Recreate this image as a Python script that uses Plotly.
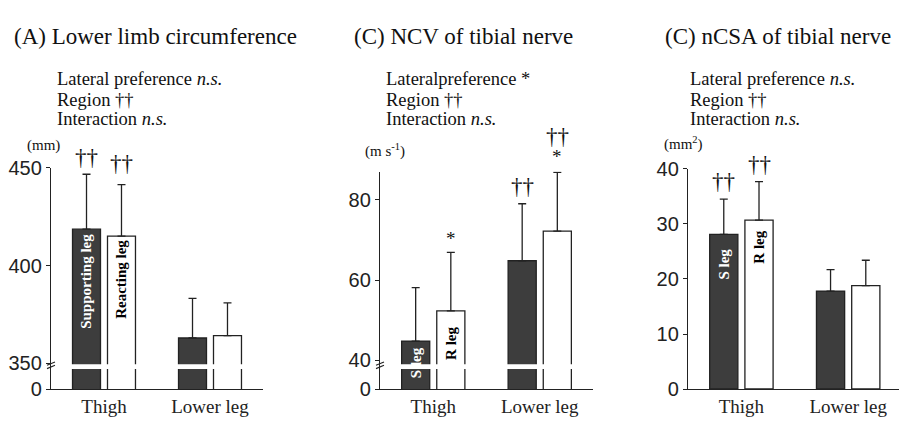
import plotly.graph_objects as go

# ---------------- data ----------------
categories = ["Thigh", "Lower leg"]

# (A) Lower limb circumference (mm)
circ_s_mean = [418.7, 363.0]
circ_s_sd = [28.1, 20.3]
circ_r_mean = [415.1, 364.2]
circ_r_sd = [26.4, 16.8]
circ_ticks = [350, 400, 450]
circ_ticktext = ["0", "350", "400", "450"]

# (C) NCV of tibial nerve (m s-1)
ncv_s_mean = [44.8, 64.8]
ncv_s_sd = [13.3, 14.2]
ncv_r_mean = [52.3, 72.2]
ncv_r_sd = [14.6, 14.6]
ncv_ticks = [40, 60, 80]
ncv_ticktext = ["0", "40", "60", "80"]

# (C) nCSA of tibial nerve (mm2)
csa_s_mean = [28.1, 17.8]
csa_s_sd = [6.4, 3.9]
csa_r_mean = [30.7, 18.8]
csa_r_sd = [7.0, 4.6]
csa_ticks = [0, 10, 20, 30, 40]
csa_ticktext = ["0", "10", "20", "30", "40"]

titles = ["(A) Lower limb circumference", "(C) NCV of tibial nerve", "(C) nCSA of tibial nerve"]
stats = [
    ["Lateral preference <i>n.s.</i>", "Region ††", "Interaction <i>n.s.</i>"],
    ["Lateralpreference *", "Region ††", "Interaction <i>n.s.</i>"],
    ["Lateral preference <i>n.s.</i>", "Region ††", "Interaction <i>n.s.</i>"],
]
units = ["(mm)", "(m s<sup>-1</sup>)", "(mm<sup>2</sup>)"]

# ---------------- layout helpers ----------------
W, H = 899, 428
def fx(px):
    return px / W
def fy(py):
    return (H - py) / H

SERIF = "Liberation Serif"
SANS = "Liberation Sans"
INK = "#222222"
DARK = "#3d3d3d"

panels = [
    dict(s=circ_s_mean, ssd=circ_s_sd, r=circ_r_mean, rsd=circ_r_sd,
         xpx=(51, 263), ypx=(399, 165.5), yr=(336.65, 450), xr=(-0.5, 1.5),
         ticks=circ_ticks, tt=circ_ticktext, brk=True),
    dict(s=ncv_s_mean, ssd=ncv_s_sd, r=ncv_r_mean, rsd=ncv_r_sd,
         xpx=(380, 593), ypx=(399, 169.3), yr=(32.74, 87.0), xr=(-0.5, 1.5),
         ticks=ncv_ticks, tt=ncv_ticktext, brk=True),
    dict(s=csa_s_mean, ssd=csa_s_sd, r=csa_r_mean, rsd=csa_r_sd,
         xpx=(688, 899), ypx=(398.5, 166.5), yr=(0, 40), xr=(-0.5, 1.476),
         ticks=csa_ticks, tt=csa_ticktext, brk=False),
]

fig = go.Figure()
layout = dict(
    width=W, height=H, margin=dict(l=0, r=0, t=0, b=0),
    paper_bgcolor="white", plot_bgcolor="white",
    barmode="group", bargap=0.34, bargroupgap=0.2,
    showlegend=False,
)
shapes = []
annotations = []

for i, p in enumerate(panels):
    sfx = "" if i == 0 else str(i + 1)
    xa, ya = "x" + sfx, "y" + sfx
    for mean, sd, col in ((p["s"], p["ssd"], DARK), (p["r"], p["rsd"], "white")):
        fig.add_trace(go.Bar(
            x=categories, y=mean, xaxis=xa, yaxis=ya,
            marker=dict(color=col, line=dict(color=INK, width=1.3)),
            error_y=dict(type="data", array=sd, arrayminus=[0] * len(sd), symmetric=False,
                         color=INK, thickness=1.3, width=4),
            hoverinfo="skip",
        ))
    tickvals = ([p["yr"][0]] + p["ticks"]) if p["brk"] else p["ticks"]
    layout["xaxis" + sfx] = dict(
        domain=[fx(p["xpx"][0]), fx(p["xpx"][1])], anchor=ya, range=list(p["xr"]),
        showline=True, linecolor=INK, linewidth=1.3, ticks="", showgrid=False,
        zeroline=False, tickfont=dict(family=SERIF, size=19, color=INK), fixedrange=True,
    )
    layout["yaxis" + sfx] = dict(
        domain=[fy(p["ypx"][0]), fy(p["ypx"][1])], anchor=xa, range=list(p["yr"]),
        showline=True, linecolor=INK, linewidth=1.3, ticks="outside", ticklen=4,
        tickwidth=1.3, tickcolor=INK, showgrid=False, zeroline=False,
        tickvals=tickvals, ticktext=p["tt"],
        tickfont=dict(family=SANS, size=20, color=INK), fixedrange=True,
    )
    # title
    annotations.append(dict(
        text=titles[i], xref="paper", yref="paper", x=fx([12, 352, 663][i]), y=fy(27),
        xanchor="left", yanchor="middle", showarrow=False,
        font=dict(family=SERIF, size=23, color="#111111")))
    # stats lines
    for j, line in enumerate(stats[i]):
        annotations.append(dict(
            text=line, xref="paper", yref="paper", x=fx([55, 384, 688][i]),
            y=fy([72, 93.5, 113.5][j]), xanchor="left", yanchor="middle", showarrow=False,
            font=dict(family=SERIF, size=18.5, color="#111111")))
    # unit label
    annotations.append(dict(
        text=units[i], xref="paper", yref="paper", x=fx([43.5, 385, 683][i]),
        y=fy([142, 146.7, 140][i]), xanchor="center", yanchor="middle", showarrow=False,
        font=dict(family=SERIF, size=15, color="#111111")))
    # axis break
    if p["brk"]:
        ax = p["xpx"][0]
        shapes.append(dict(type="rect", xref="paper", yref="paper",
                           x0=fx(ax + 2), x1=fx(p["xpx"][1]), y0=fy(377.5), y1=fy(372.5),
                           fillcolor="white", line=dict(width=0), layer="above"))
        for dy in (0, 3.5):
            shapes.append(dict(type="line", xref="paper", yref="paper",
                               x0=fx(ax - 4), y0=fy(373.5 + dy), x1=fx(ax + 4), y1=fy(370 + dy),
                               line=dict(color=INK, width=1.1), layer="above"))

# group offsets of the two bars within a category slot
OFF_S, OFF_R = -0.165, 0.165

# in-bar labels (rotated)
def bar_label(text, xa, ya, cat, off, y, color):
    annotations.append(dict(text="<b>" + text + "</b>", xref=xa, yref=ya, x=cat + off, y=y,
                            textangle=-90, showarrow=False, xanchor="center", yanchor="middle",
                            font=dict(family=SERIF, size=15, color=color)))

bar_label("Supporting leg", "x", "y", 0, OFF_S, 392.0, "white")
bar_label("Reacting leg", "x", "y", 0, OFF_R, 393.0, "black")
bar_label("S leg", "x2", "y2", 0, OFF_S, 39.46, "white")
bar_label("R leg", "x2", "y2", 0, OFF_R, 44.3, "black")
bar_label("S leg", "x3", "y3", 0, OFF_S, 22.76, "white")
bar_label("R leg", "x3", "y3", 0, OFF_R, 25.69, "black")

# significance marks above error bars
def mark(text, xa, ya, cat, off, yval, shift, size):
    annotations.append(dict(text=text, xref=xa, yref=ya, x=cat + off, y=yval, yshift=shift,
                            showarrow=False, xanchor="center", yanchor="middle",
                            font=dict(family=SERIF, size=size, color="#111111")))

DAG, AST = 23, 19
mark("††", "x", "y", 0, OFF_S, circ_s_mean[0] + circ_s_sd[0], 17, DAG)
mark("††", "x", "y", 0, OFF_R, circ_r_mean[0] + circ_r_sd[0], 21, DAG)
mark("*", "x2", "y2", 0, OFF_R, ncv_r_mean[0] + ncv_r_sd[0], 14, AST)
mark("††", "x2", "y2", 1, OFF_S, ncv_s_mean[1] + ncv_s_sd[1], 17, DAG)
mark("*", "x2", "y2", 1, OFF_R, ncv_r_mean[1] + ncv_r_sd[1], 16, AST)
mark("††", "x2", "y2", 1, OFF_R, ncv_r_mean[1] + ncv_r_sd[1], 36, DAG)
mark("††", "x3", "y3", 0, OFF_S, csa_s_mean[0] + csa_s_sd[0], 18, DAG)
mark("††", "x3", "y3", 0, OFF_R, csa_r_mean[0] + csa_r_sd[0], 17.5, DAG)

layout["shapes"] = shapes
layout["annotations"] = annotations
fig.update_layout(**layout)
fig.write_html("out.html", config={"displayModeBar": False},
               post_script="document.body.style.margin='0';document.body.style.overflow='hidden';")
